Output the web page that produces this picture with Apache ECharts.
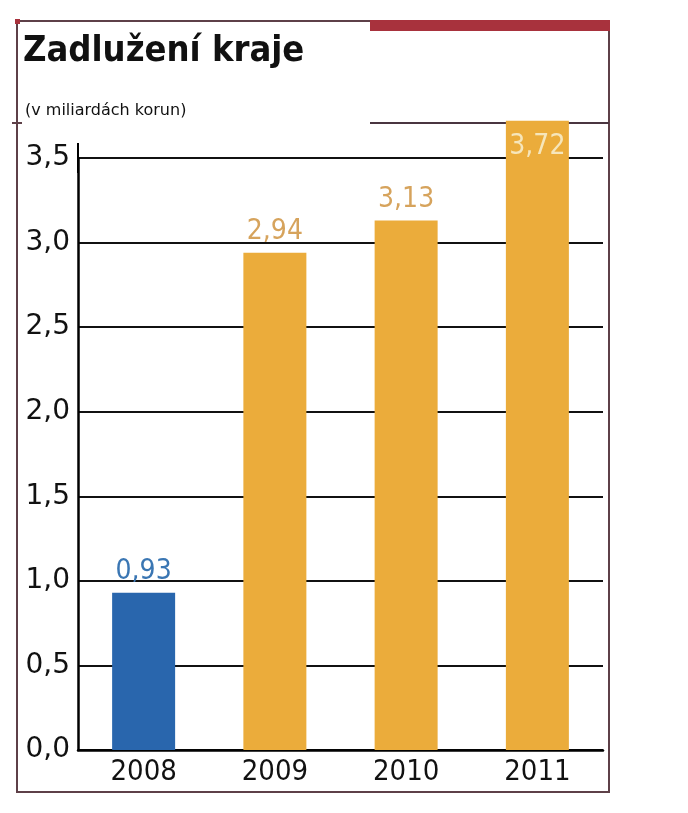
<!DOCTYPE html>
<html>
<head>
<meta charset="utf-8">
<script src="https://cdn.jsdelivr.net/npm/echarts@6/dist/echarts.min.js"></script>
<style>
html,body{margin:0;padding:0;background:#fff;}
#chart{width:688px;height:813px;}
</style>
</head>
<body>
<div id="chart"></div>
<script>
// ---- data ----
const titleText = 'Zadlužení kraje';
const subtitleText = '(v miliardách korun)';
const categories = ['2008', '2009', '2010', '2011'];
const values = [0.93, 2.94, 3.13, 3.72];
const yTicks = [0, 0.5, 1.0, 1.5, 2.0, 2.5, 3.0, 3.5];

// ---- styles ----
const BLUE = '#2966ad';
const ORANGE = '#ebac3b';
const BLUE_LABEL = '#3a76b3';
const ORANGE_LABEL = '#d6a35c';
const INSIDE_LABEL = '#f6e6bb';
const COND = '"DejaVu Sans Condensed", "Liberation Sans Narrow", sans-serif';
const FRAME = '#5e4048';

const fmt = (v, d) => v.toFixed(d).replace('.', ',');

const data = values.map((v, i) => {
  const first = i === 0;
  const last = i === values.length - 1;
  return {
    value: v,
    itemStyle: { color: first ? BLUE : ORANGE },
    label: last
      ? { position: 'insideTop', distance: 12, color: INSIDE_LABEL }
      : { position: 'top', distance: 7, color: first ? BLUE_LABEL : ORANGE_LABEL }
  };
});

const chart = echarts.init(document.getElementById('chart'), null, { renderer: 'canvas' });
chart.setOption({
  backgroundColor: '#ffffff',
  animation: false,
  title: [
    {
      text: titleText, left: 18, top: 27,
      textStyle: { fontFamily: COND, fontSize: 36, fontWeight: 'bold', color: '#111', lineHeight: 40 }
    },
    {
      text: subtitleText, left: 20, top: 97,
      textStyle: { fontFamily: '"DejaVu Sans", sans-serif', fontSize: 16, fontWeight: 'normal', color: '#111', lineHeight: 18 }
    }
  ],
  grid: { left: 78, right: 85, top: 158, bottom: 63, containLabel: false },
  xAxis: {
    type: 'category',
    data: categories,
    axisLine: { show: true, lineStyle: { color: '#000', width: 2.5 } },
    axisTick: { show: false },
    axisLabel: { fontFamily: COND, fontSize: 29, color: '#111', margin: 7, lineHeight: 30 },
    splitLine: { show: false }
  },
  yAxis: {
    type: 'value',
    min: yTicks[0],
    max: yTicks[yTicks.length - 1],
    interval: 0.5,
    axisLine: {
      show: true,
      lineStyle: { color: '#000', width: 2.5 },
      symbol: ['none', 'rect'],
      symbolSize: [2, 30]
    },
    axisTick: { show: false },
    axisLabel: {
      fontFamily: '"DejaVu Sans", sans-serif', fontSize: 28, color: '#111', margin: 8,
      formatter: v => fmt(v, 1)
    },
    splitLine: { show: true, lineStyle: { color: '#111', width: 2 } }
  },
  series: [{
    type: 'bar',
    data: data,
    barWidth: 63,
    clip: false,
    z: 3,
    label: {
      show: true,
      fontFamily: COND,
      fontSize: 28,
      lineHeight: 28,
      formatter: p => fmt(p.value, 2)
    }
  }],
  graphic: [
    { type: 'rect', shape: { x: 17, y: 21, width: 592, height: 771 }, style: { fill: 'none', stroke: FRAME, lineWidth: 2 }, z: 1 },
    { type: 'rect', shape: { x: 370, y: 20, width: 240, height: 11 }, style: { fill: '#a8323d' }, z: 2 },
    { type: 'line', shape: { x1: 370, y1: 123, x2: 609, y2: 123 }, style: { stroke: '#4a3540', lineWidth: 2 }, z: 2 },
    { type: 'line', shape: { x1: 12, y1: 123, x2: 22, y2: 123 }, style: { stroke: FRAME, lineWidth: 2 }, z: 2 },
    { type: 'rect', shape: { x: 15, y: 19, width: 5, height: 5 }, style: { fill: '#a8323d' }, z: 2 }
  ]
});
</script>
</body>
</html>
